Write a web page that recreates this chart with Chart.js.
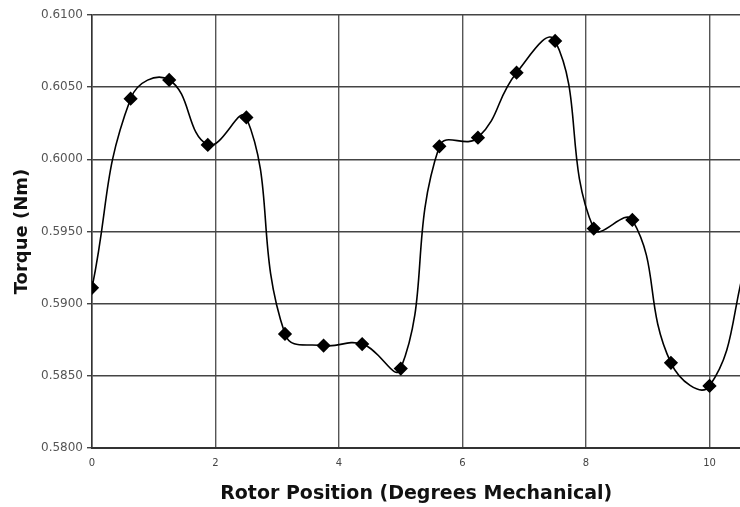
<!DOCTYPE html>
<html>
<head>
<meta charset="utf-8">
<script src="https://cdn.jsdelivr.net/npm/chart.js@4"></script>
<style>
  html, body { margin: 0; padding: 0; background: #fff; overflow: hidden; }
  /* a área do gráfico é cortada na borda direita, como no original */
  #wrap { width: 748px; height: 507px; }
</style>
</head>
<body>
<div id="wrap"><canvas id="grafico"></canvas></div>
<script>
// posição do rotor (graus mecânicos) e torque (Nm)
const posicoes = [0, 0.625, 1.25, 1.875, 2.5, 3.125, 3.75, 4.375, 5, 5.625, 6.25, 6.875, 7.5, 8.125, 8.75, 9.375, 10, 10.625];
const torque = [0.5911, 0.6042, 0.6055, 0.6010, 0.6029, 0.5879, 0.5871, 0.5872, 0.5855, 0.6009, 0.6015, 0.6060, 0.6082, 0.5952, 0.5958, 0.5859, 0.5843, 0.5935];
const ticksX = [0, 2, 4, 6, 8, 10];
const ticksY = [0.58, 0.585, 0.59, 0.595, 0.60, 0.605, 0.61];

const ctx = document.getElementById('grafico').getContext('2d');

const grafico = new Chart(ctx, {
  type: 'scatter',
  data: {
    datasets: [{
      label: 'Torque',
      data: posicoes.map((x, i) => ({ x: x, y: torque[i] })),
      showLine: true,
      borderColor: '#000',
      borderWidth: 1.6,
      tension: 0.45,
      pointStyle: 'rectRot',
      pointRadius: 6,
      pointBackgroundColor: '#000',
      pointBorderColor: '#000'
    }]
  },
  options: {
    responsive: true,
    maintainAspectRatio: false,
    animation: false,
    layout: { padding: { top: 15, right: 0, left: 0, bottom: 0 } },
    plugins: {
      legend: { display: false },
      tooltip: { enabled: false }
    },
    scales: {
      x: {
        type: 'linear',
        min: 0,
        max: 10.5,
        afterBuildTicks: (s) => { s.ticks = ticksX.map(v => ({ value: v })); },
        afterFit: (s) => { s.height = 59; },
        grid: { color: '#555', lineWidth: 1.4, drawTicks: false },
        border: { color: '#333', width: 2 },
        ticks: {
          padding: 9,
          color: '#444',
          font: { family: 'DejaVu Sans', size: 10 },
          callback: (v) => String(v)
        },
        title: {
          display: true,
          text: 'Rotor Position (Degrees Mechanical)',
          color: '#111',
          font: { family: 'DejaVu Sans', size: 19, weight: 'bold' },
          padding: { top: 6, bottom: 2 }
        }
      },
      y: {
        min: 0.58,
        max: 0.61,
        afterBuildTicks: (s) => { s.ticks = ticksY.map(v => ({ value: v })); },
        afterFit: (s) => { s.width = 92; },
        grid: { color: '#444', lineWidth: 1.4, drawTicks: true, tickLength: 5, tickColor: '#444' },
        border: { color: '#333', width: 1.5 },
        ticks: {
          padding: 4,
          color: '#555',
          font: { family: 'DejaVu Sans', size: 12 },
          callback: (v) => v.toFixed(4)
        },
        title: {
          display: true,
          text: 'Torque (Nm)',
          color: '#111',
          font: { family: 'DejaVu Sans', size: 18, weight: 'bold' },
          padding: { top: 12, bottom: 0 }
        }
      }
    }
  }
});
</script>
</body>
</html>
